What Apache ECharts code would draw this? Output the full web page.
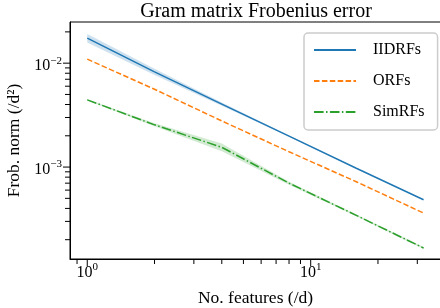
<!DOCTYPE html>
<html>
<head>
<meta charset="utf-8">
<script src="https://cdn.jsdelivr.net/npm/echarts@6/dist/echarts.min.js"></script>
<style>
html, body { margin: 0; padding: 0; background: #fff; }
#chart { width: 440px; height: 308px; }
</style>
</head>
<body>
<div id="chart"></div>
<script>
// no. features (/d)
var features = [1, 2, 4, 8, 16, 32];
// Frobenius error of the Gram matrix, per method
var iidrfs = [0.01739, 0.008246, 0.004034, 0.001987, 0.000974, 0.000485];
var orfs = [0.01093, 0.00561, 0.00278, 0.001404, 0.000722, 0.000361];
var simrfs = [0.004436, 0.00255, 0.00155, 0.000700, 0.000343, 0.0001664];
// shaded spread around the mean
var iidrfsLow = [0.01581, 0.00771, 0.003898, 0.001963, 0.000969, 0.000483];
var iidrfsHigh = [0.01913, 0.00882, 0.004175, 0.002011, 0.000979, 0.000487];
var simrfsLow = [0.00437, 0.002466, 0.00142, 0.000677, 0.000336, 0.0001631];
var simrfsHigh = [0.004503, 0.002637, 0.00169, 0.000724, 0.00035, 0.0001697];
// tick marks
var xMajorTicks = [1, 10];
var xMinorTicks = [0.9, 2, 3, 4, 5, 6, 7, 8, 9, 20, 30];
var yMajorTicks = [0.01, 0.001];
var yMinorTicks = [0.02, 0.009, 0.008, 0.007, 0.006, 0.005, 0.004, 0.003, 0.002,
  0.0009, 0.0008, 0.0007, 0.0006, 0.0005, 0.0004, 0.0003, 0.0002];

var X_MIN = 0.837, X_MAX = 38.3;
var Y_MIN = 1.304e-4, Y_MAX = 0.0249;
var FONT = 'Liberation Serif';

function tickSeries(vals, dir, len) {
  return {
    type: 'custom',
    silent: true,
    clip: false,
    z: 5,
    data: vals.map(function (v) { return dir === 'x' ? [v, Y_MIN] : [X_MIN, v]; }),
    renderItem: function (params, api) {
      var p = api.coord([api.value(0), api.value(1)]);
      var shape = dir === 'x'
        ? { x1: p[0], y1: p[1], x2: p[0], y2: p[1] + len }
        : { x1: p[0] - len, y1: p[1], x2: p[0], y2: p[1] };
      return { type: 'line', shape: shape, style: { stroke: '#000', lineWidth: 1 } };
    }
  };
}

function bandSeries(lo, hi, color) {
  return {
    type: 'custom',
    silent: true,
    clip: true,
    z: 1,
    data: features.map(function (x, i) { return [x, lo[i], hi[i]]; }),
    encode: { x: 0, y: [1, 2] },
    renderItem: function (params, api) {
      var i = params.dataIndex;
      if (i >= features.length - 1) return;
      var a = api.coord([features[i], lo[i]]);
      var b = api.coord([features[i + 1], lo[i + 1]]);
      var c = api.coord([features[i + 1], hi[i + 1]]);
      var d = api.coord([features[i], hi[i]]);
      return { type: 'polygon', shape: { points: [a, b, c, d] }, style: { fill: color } };
    }
  };
}

function powLabel(v) {
  var l = Math.log10(v), e = Math.round(l);
  if (Math.abs(l - e) > 1e-6) return '';
  return '{b|10}{s|' + (e < 0 ? '\u2212' + (-e) : e) + '}';
}

var labelRich = {
  b: { fontFamily: FONT, fontSize: 16, color: '#000', lineHeight: 16, padding: [6, 0, 0, 0] },
  s: { fontFamily: FONT, fontSize: 11, color: '#000', lineHeight: 11, verticalAlign: 'top' }
};

var chart = echarts.init(document.getElementById('chart'));
chart.setOption({
  animation: false,
  title: {
    text: 'Gram matrix Frobenius error',
    left: 256,
    top: 2,
    textAlign: 'center',
    padding: 0,
    textStyle: { fontFamily: FONT, fontSize: 20, fontWeight: 'normal', color: '#000' }
  },
  legend: {
    data: ['IIDRFs', 'ORFs', 'SimRFs'],
    orient: 'vertical',
    left: 304,
    top: 33,
    padding: [9, 13, 10, 9],
    itemWidth: 42,
    itemHeight: 14,
    itemGap: 15,
    itemStyle: { opacity: 0 },
    backgroundColor: '#fff',
    borderColor: '#cccccc',
    borderWidth: 1.5,
    borderRadius: 4,
    textStyle: { fontFamily: FONT, fontSize: 16, color: '#000', padding: [0, 0, 0, 12] }
  },
  grid: {
    left: 70, top: 22, right: -1, bottom: 49,
    show: true, borderColor: '#000', borderWidth: 1,
    outerBoundsMode: 'none'
  },
  xAxis: {
    type: 'log',
    logBase: 10,
    min: X_MIN,
    max: X_MAX,
    name: 'No. features (/d)',
    nameLocation: 'middle',
    nameGap: 30,
    nameTextStyle: { fontFamily: FONT, fontSize: 17.5, color: '#000' },
    axisLine: { lineStyle: { color: '#000', width: 1 } },
    axisTick: { show: false },
    splitLine: { show: false },
    axisLabel: { margin: 3, showMinLabel: false, showMaxLabel: false, formatter: powLabel, rich: labelRich }
  },
  yAxis: {
    type: 'log',
    logBase: 10,
    min: Y_MIN,
    max: Y_MAX,
    name: 'Frob. norm (/d\u00b2)',
    nameLocation: 'middle',
    nameGap: 43,
    nameTextStyle: { fontFamily: FONT, fontSize: 17.5, color: '#000' },
    axisLine: { lineStyle: { color: '#000', width: 1 } },
    axisTick: { show: false },
    splitLine: { show: false },
    axisLabel: { margin: 8, showMinLabel: false, showMaxLabel: false, formatter: powLabel, rich: labelRich }
  },
  series: [
    bandSeries(iidrfsLow, iidrfsHigh, 'rgba(31,119,180,0.22)'),
    bandSeries(simrfsLow, simrfsHigh, 'rgba(44,160,44,0.22)'),
    {
      name: 'IIDRFs', type: 'line', symbol: 'none', z: 3,
      data: features.map(function (x, i) { return [x, iidrfs[i]]; }),
      itemStyle: { color: '#1f77b4' },
      lineStyle: { color: '#1f77b4', width: 1.5, type: 'solid' }
    },
    {
      name: 'ORFs', type: 'line', symbol: 'none', z: 3,
      data: features.map(function (x, i) { return [x, orfs[i]]; }),
      itemStyle: { color: '#ff7f0e' },
      lineStyle: { color: '#ff7f0e', width: 1.5, type: [5.5, 2.4] }
    },
    {
      name: 'SimRFs', type: 'line', symbol: 'none', z: 3,
      data: features.map(function (x, i) { return [x, simrfs[i]]; }),
      itemStyle: { color: '#2ca02c' },
      lineStyle: { color: '#2ca02c', width: 1.5, type: [9.6, 2.4, 1.5, 2.4] }
    },
    tickSeries(xMajorTicks, 'x', 7),
    tickSeries(xMinorTicks, 'x', 5),
    tickSeries(yMajorTicks, 'y', 7),
    tickSeries(yMinorTicks, 'y', 5)
  ]
});
</script>
</body>
</html>
